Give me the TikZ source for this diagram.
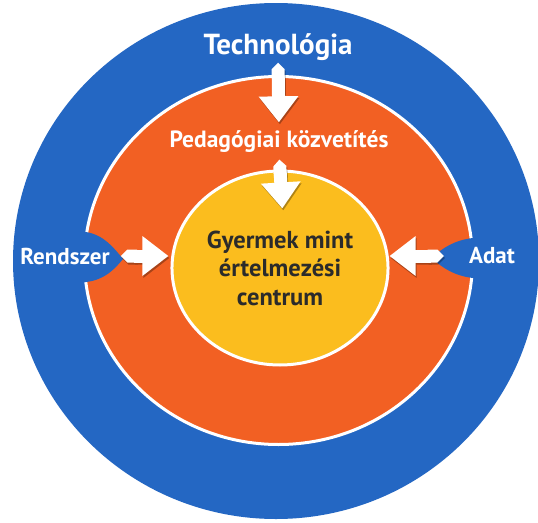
\documentclass[tikz,border=0pt]{standalone}
\usepackage{fontspec}
\setmainfont{PT Sans}
\usetikzlibrary{arrows.meta,shapes.geometric}

\definecolor{kek}{HTML}{2467C3}
\definecolor{narancs}{HTML}{F26023}
\definecolor{sarga}{HTML}{FBBD1E}
\definecolor{sotet}{HTML}{2B2B2B}

\tikzset{
  felirat/.style={text=white, inner sep=0pt, font=\bfseries\fontsize{23}{27}\selectfont},
  nyil/.style={draw=white, line width=13pt, {Triangle Cap}-{Triangle[width=38pt,length=26pt]}},
  gyuru/.style={draw=white, line width=3pt}
}

\begin{document}
\begin{tikzpicture}[x=1pt,y=-1pt]
  \useasboundingbox[fill=white] (0,0) rectangle (538,522);
  % rings
  \fill[kek] (276,261) ellipse [x radius=263pt, y radius=258pt];
  \filldraw[gyuru, fill=narancs] (278.5,260.5) ellipse [x radius=194pt, y radius=184pt];
  % blue tongues
  \fill[kek] (70,230) -- (86,232) .. controls (104,235) and (114,248) .. (123,259)
    .. controls (114,270) and (104,280) .. (86,282) -- (70,285) -- cycle;
  \fill[kek] (490,236) -- (473,238) .. controls (455,240) and (442,248) .. (432,258)
    .. controls (442,268) and (455,276) .. (473,278) -- (490,280) -- cycle;
  % labels
  \node[felirat, font=\bfseries\fontsize{29}{34}\selectfont] (tech) at (278,47) {Technológia};
  \node[felirat, font=\bfseries\fontsize{23.5}{28}\selectfont] (ped) at (279,141.5) {Pedagógiai közvetítés};
  \node[felirat] (rend) at (65,256) {Rendszer};
  \node[felirat] (adat) at (492,256) {Adat};
  \node[ellipse, gyuru, fill=sarga, minimum width=206pt, minimum height=194pt,
        align=center, text=sotet, font=\bfseries\fontsize{24.5}{28.5}\selectfont]
        (gyerek) at (280,268) {Gyermek mint\\értelmezési\\centrum};
  \coordinate (bcel) at (gyerek.west |- rend.east);
  \coordinate (jcel) at (gyerek.east |- adat.west);
  % arrows
  \foreach \a/\b/\s/\t in {tech.south/ped.north/2pt/8pt, ped.south/gyerek.north/7pt/-39pt,
                          rend.east/bcel/11pt/2pt, adat.west/jcel/25pt/0pt} {
    \begin{scope}[transparency group, opacity=.3]
      \draw[nyil, draw=black, shorten <=\s, shorten >=\t,
            transform canvas={shift={(1pt,-2pt)}}] (\a) -- (\b);
    \end{scope}
    \draw[nyil, shorten <=\s, shorten >=\t] (\a) -- (\b);
  }
\end{tikzpicture}
\end{document}
